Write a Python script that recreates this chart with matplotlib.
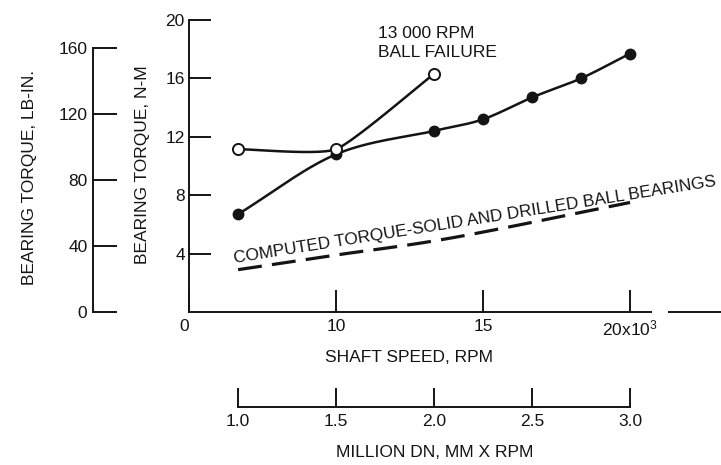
import numpy as np
import matplotlib
matplotlib.use("Agg")
import matplotlib.pyplot as plt

plt.rcParams['font.family'] = ['Liberation Sans', 'DejaVu Sans']
plt.rcParams['mathtext.default'] = 'regular'

# --- data (shaft speed in thousands of rpm, torque in N-m) ---
solid_speed = [6.67, 10.0, 13.33, 15.0, 16.67, 18.33, 20.0]
solid_torque = [6.7, 10.8, 12.4, 13.2, 14.7, 16.0, 17.7]

drilled_speed = [6.67, 10.0, 13.33]
drilled_torque = [11.15, 11.15, 16.3]

computed_speed = [6.67, 10.0, 14.0, 20.0]
computed_torque = [2.9, 3.9, 5.1, 7.5]

rpm_ticks = [5, 10, 15, 20]
rpm_labels = ['0', '10', '15', '20x10$^3$']
nm_ticks = [4, 8, 12, 16, 20]
lbin_ticks = [0, 40, 80, 120, 160]
dn_ticks = [1.0, 1.5, 2.0, 2.5, 3.0]
dn_labels = ['1.0', '1.5', '2.0', '2.5', '3.0']

NM_TO_LBIN = 8.8507
BORE_MM = 150.0


def faired(xs, ys, tension=0.0, n=40):
    # cardinal spline through the points, like a hand-faired line
    p = np.column_stack([xs, ys]).astype(float)
    p = np.vstack([2 * p[0] - p[1], p, 2 * p[-1] - p[-2]])
    t = np.linspace(0, 1, n)[:, None]
    h00 = 2 * t ** 3 - 3 * t ** 2 + 1
    h10 = t ** 3 - 2 * t ** 2 + t
    h01 = -2 * t ** 3 + 3 * t ** 2
    h11 = t ** 3 - t ** 2
    k = (1 - tension) / 2
    segs = []
    for i in range(1, len(p) - 2):
        m1 = k * (p[i + 1] - p[i - 1])
        m2 = k * (p[i + 2] - p[i])
        segs.append(h00 * p[i] + h10 * m1 + h01 * p[i + 1] + h11 * m2)
    c = np.vstack(segs)
    return c[:, 0], c[:, 1]


W, H = 721, 465
fig = plt.figure(figsize=(W / 100, H / 100), dpi=100)
ax = fig.add_axes([189 / W, 1 - 312 / H, 532 / W, 292 / H])
x_end = 5 + 532 / 29.4
ax.set_xlim(5, x_end)
ax.set_ylim(0, 20)

ink = '#141414'
fs = 12.5
lw_ax = 1.4

for s in ['top', 'right']:
    ax.spines[s].set_visible(False)
for s in ['left', 'bottom']:
    ax.spines[s].set_linewidth(lw_ax)
    ax.spines[s].set_color(ink)
# axis line is broken where the exponent sits
ax.spines['bottom'].set_bounds(5, 20.7)
ax.plot([21.3, x_end], [0, 0], color=ink, lw=lw_ax, clip_on=False, solid_capstyle='butt')

ax.set_xticks(rpm_ticks)
ax.set_xticklabels(rpm_labels)
ax.set_yticks(nm_ticks)
ax.tick_params(direction='in', length=16, width=lw_ax, color=ink, labelsize=fs, labelcolor=ink)
ax.tick_params(axis='x', pad=5)
ax.tick_params(axis='y', pad=3)
ax.get_xticklabels()[0].set_horizontalalignment('right')

# curves
x, y = faired(solid_speed, solid_torque)
ax.plot(x, y, color=ink, lw=1.8)
ax.plot(solid_speed, solid_torque, 'o', color=ink, ms=7.5)

x, y = faired(drilled_speed, drilled_torque, tension=0.5)
ax.plot(x, y, color=ink, lw=1.8)
ax.plot(drilled_speed, drilled_torque, 'o', mfc='white', mec=ink, mew=1.4, ms=8)

x, y = faired(computed_speed, computed_torque)
ax.plot(x, y, color=ink, lw=2.3, dashes=(7.5, 3.2))

ax.text(6.56, 3.36, 'COMPUTED TORQUE-SOLID AND DRILLED BALL BEARINGS', fontsize=12.3,
        color=ink, rotation=9.1, rotation_mode='anchor', ha='left', va='baseline')
ax.text(11.43, 19.6, '13 000 RPM\nBALL FAILURE', fontsize=fs, color=ink,
        ha='left', va='top', linespacing=1.35)

# lb-in scale on the far left
sec_y = ax.secondary_yaxis((93 - 189) / 532, functions=(lambda n: n * NM_TO_LBIN,
                                                          lambda l: l / NM_TO_LBIN))
sec_y.set_yticks(lbin_ticks)
sec_y.tick_params(direction='in', length=17, width=lw_ax, color=ink, labelsize=fs, labelcolor=ink, pad=4)
sec_y.spines['left'].set_bounds(0, 160)
sec_y.spines['left'].set_linewidth(lw_ax)
sec_y.spines['left'].set_color(ink)

# DN scale below (150 mm bore)
sec_x = ax.secondary_xaxis((312 - 407) / 292, functions=(lambda r: r * BORE_MM / 1000,
                                                         lambda d: d * 1000 / BORE_MM))
sec_x.set_xticks(dn_ticks)
sec_x.set_xticklabels(dn_labels)
sec_x.tick_params(direction='in', length=14, width=lw_ax, color=ink, labelsize=fs, labelcolor=ink, pad=5)
sec_x.spines['bottom'].set_bounds(1.0, 3.0)
sec_x.spines['bottom'].set_linewidth(lw_ax)
sec_x.spines['bottom'].set_color(ink)


def px(xp, yp):
    return xp / W, 1 - yp / H


fig.text(*px(409, 357), 'SHAFT SPEED, RPM', fontsize=fs, color=ink, ha='center', va='center')
fig.text(*px(435, 452), 'MILLION DN, MM X RPM', fontsize=fs, color=ink, ha='center', va='center')
fig.text(*px(30, 177), 'BEARING TORQUE, LB-IN.', fontsize=fs, color=ink, rotation=90,
         ha='center', va='center')
fig.text(*px(143, 165), 'BEARING TORQUE, N-M', fontsize=fs, color=ink, rotation=90,
         ha='center', va='center')

fig.savefig('out.png', dpi=100, facecolor='white')
